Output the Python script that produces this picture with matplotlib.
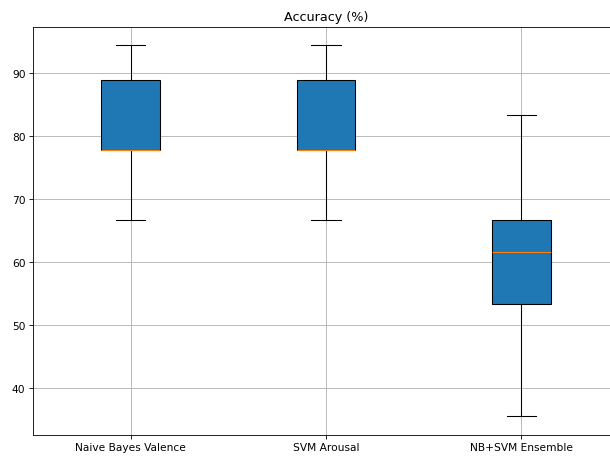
import matplotlib
matplotlib.use('Agg')
import matplotlib.pyplot as plt

# per-model accuracy summary (%)
labels = ['Naive Bayes Valence', 'SVM Arousal', 'NB+SVM Ensemble']
whislo = [66.67, 66.67, 35.56]
q1 = [77.78, 77.78, 53.33]
med = [77.78, 77.78, 61.58]
q3 = [88.89, 88.89, 66.67]
whishi = [94.44, 94.44, 83.33]

stats = []
for i in range(len(labels)):
    stats.append({'label': labels[i], 'whislo': whislo[i], 'q1': q1[i],
                  'med': med[i], 'q3': q3[i], 'whishi': whishi[i], 'fliers': []})

# original looks like an 8x6 figure shrunk to 610 px wide
fig = plt.figure(figsize=(8, 5.995), dpi=76.25)
# the original is cropped on the right, so the axes run past the figure edge
ax = fig.add_axes([0.054, 0.048, 0.961, 0.893])
ax.bxp(stats, patch_artist=True, widths=0.3, showfliers=False)
ax.set_xlim(0.5, 3.5)
ax.set_ylim(32.6, 97.4)
ax.set_title('Accuracy (%)')
ax.grid(True)

fig.savefig('out.png', dpi=76.25)
